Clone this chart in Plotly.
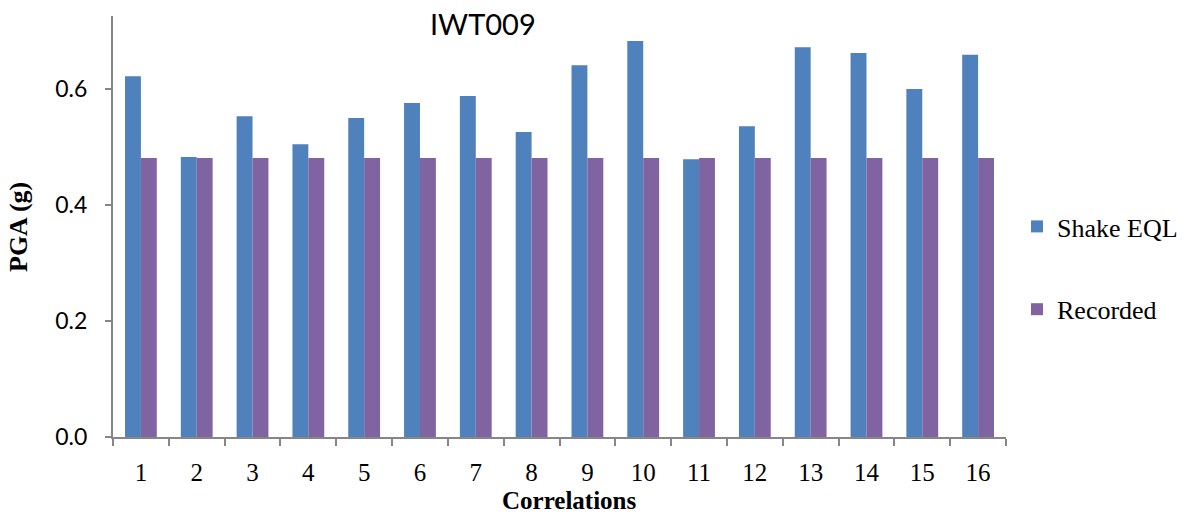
import plotly.graph_objects as go

# PGA per correlation, station IWT009
correlations = [str(i) for i in range(1, 17)]
shake_eql = [0.622, 0.483, 0.553, 0.505, 0.550, 0.576, 0.588, 0.526,
             0.641, 0.683, 0.479, 0.536, 0.672, 0.662, 0.600, 0.659]
recorded = [0.481] * 16
y_ticks = [0.0, 0.2, 0.4, 0.6]
y_tick_text = ["0.0", "0.2", "0.4", "0.6"]

W, H = 1188, 516
L, R, T, B = 113, 182, 16, 79
PW, PH = W - L - R, H - T - B
axis_grey = "#868686"


def px_x(px):
    """Pixel column -> paper x (relative to the plot area)."""
    return (px - L) / PW


def px_y(py):
    """Pixel row -> paper y (relative to the plot area)."""
    return (H - B - py) / PH


fig = go.Figure()
fig.add_trace(go.Bar(x=correlations, y=shake_eql, name="Shake EQL",
                     marker=dict(color="#4F81BD", line=dict(width=0)),
                     legendgroup="a"))
fig.add_trace(go.Bar(x=correlations, y=recorded, name="Recorded",
                     marker=dict(color="#8064A2", line=dict(width=0)),
                     legendgroup="b"))

fig.update_layout(
    width=W, height=H,
    margin=dict(l=L, r=R, t=T, b=B, autoexpand=False),
    paper_bgcolor="white", plot_bgcolor="white",
    barmode="group", bargap=0.43, bargroupgap=0,
    showlegend=True,
    legend=dict(x=px_x(1017), y=px_y(268), xanchor="left", yanchor="middle",
                font=dict(family="Liberation Serif", size=26, color="#000"),
                tracegroupgap=46, traceorder="grouped",
                itemwidth=30, bgcolor="rgba(0,0,0,0)"),
    xaxis=dict(type="category", showline=True, linecolor=axis_grey, linewidth=2,
               ticks="outside", tickson="boundaries", ticklen=7, tickwidth=2,
               tickcolor=axis_grey, showgrid=False, zeroline=False,
               tickfont=dict(family="Liberation Serif", size=25, color="#000"),
               ticklabelstandoff=12),
    yaxis=dict(range=[0, 0.726], showline=True, linecolor=axis_grey, linewidth=2,
               ticks="outside", ticklen=6, tickwidth=2, tickcolor=axis_grey,
               tickvals=y_ticks, ticktext=y_tick_text, showgrid=False,
               zeroline=False,
               tickfont=dict(family="Lato", size=23, color="#000"),
               ticklabelstandoff=13),
    annotations=[
        dict(text="IWT009", x=px_x(483), y=px_y(24), xref="paper", yref="paper",
             xanchor="center", yanchor="middle", showarrow=False,
             font=dict(family="Lato", size=29, color="#000")),
        dict(text="<b>Correlations</b>", x=px_x(569), y=px_y(516),
             xref="paper", yref="paper", xanchor="center", yanchor="bottom",
             showarrow=False,
             font=dict(family="Liberation Serif", size=25, color="#000")),
        dict(text="<b>PGA (g)</b>", x=px_x(18), y=px_y(227), textangle=-90,
             xref="paper", yref="paper", xanchor="center", yanchor="middle",
             showarrow=False,
             font=dict(family="Liberation Serif", size=26, color="#000")),
    ],
)

fig.write_html("out.html")
